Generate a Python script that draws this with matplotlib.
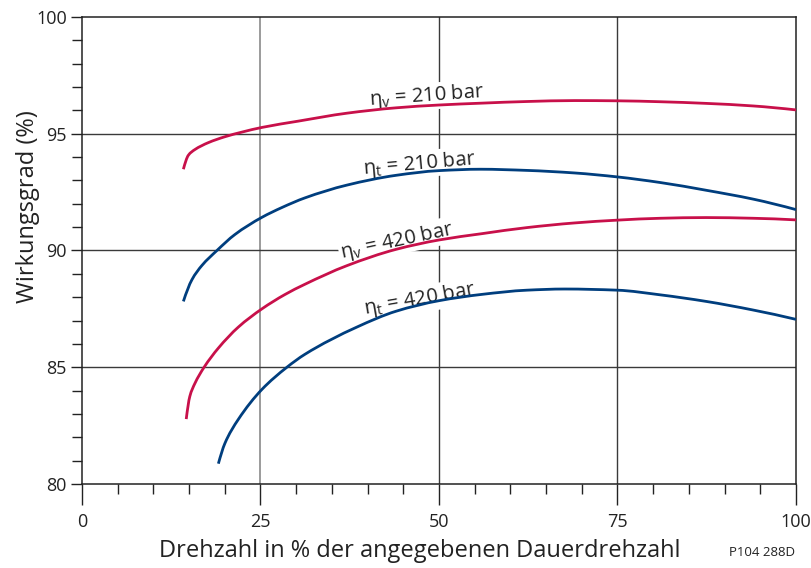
import numpy as np
import matplotlib
matplotlib.use("Agg")
import matplotlib.pyplot as plt
from matplotlib.path import Path
from matplotlib.patches import PathPatch

plt.rcParams['font.family'] = ['Open Sans', 'DejaVu Sans']
plt.rcParams['mathtext.fontset'] = 'custom'
plt.rcParams['mathtext.rm'] = 'Open Sans'

# curves (speed in %, efficiency in %)
x_v210 = [14.2, 14.9, 15.8, 17.7, 20.0, 22.4, 25.2, 30.3, 37.1, 44.0, 50.0,
          56, 62.3, 69, 75, 81, 87.4, 94, 100]
y_v210 = [93.48, 94.08, 94.32, 94.62, 94.87, 95.07, 95.27, 95.54, 95.88, 96.11,
          96.23, 96.31, 96.38, 96.42, 96.41, 96.37, 96.30, 96.19, 96.02]

x_t210 = [14.2, 15.4, 16.8, 18.9, 21.4, 25.2, 28.0, 31.2, 37.1, 44.0, 50.0,
          55.8, 62.3, 69, 75, 81, 87.4, 94, 100]
y_t210 = [87.82, 88.75, 89.36, 90.0, 90.68, 91.42, 91.84, 92.25, 92.80, 93.22,
          93.42, 93.48, 93.43, 93.32, 93.15, 92.91, 92.58, 92.2, 91.75]

x_v420 = [14.6, 15.1, 15.8, 17.1, 19.1, 21.9, 25.2, 28.4, 31.2, 37.1, 44.0,
          50.0, 56, 62.3, 69, 75, 81, 87.4, 94, 100]
y_v420 = [82.78, 83.75, 84.3, 85.0, 85.82, 86.72, 87.50, 88.11, 88.55, 89.35,
          90.05, 90.45, 90.72, 90.98, 91.18, 91.30, 91.38, 91.41, 91.38, 91.31]

x_t420 = [19.1, 20.0, 21.9, 25.2, 28.7, 31.2, 38.5, 44.0, 50.0, 56, 62.3,
          67.6, 75, 81, 87.4, 94, 100]
y_t420 = [80.87, 81.73, 82.77, 84.05, 85.0, 85.55, 86.72, 87.4, 87.85, 88.12,
          88.30, 88.35, 88.30, 88.1, 87.82, 87.45, 87.05]

labels = [r'η$_\mathrm{v}$ = 210 bar', r'η$_\mathrm{t}$ = 210 bar',
          r'η$_\mathrm{v}$ = 420 bar', r'η$_\mathrm{t}$ = 420 bar']
label_x = [48.3, 47.3, 44.1, 47.3]
label_y = [96.6, 93.7, 90.4, 87.9]
label_rot = [4, 5, 12, 10]

red = '#c8104a'
blue = '#003e7e'


def pchip_slopes(xs, ys):
    h = np.diff(xs)
    d = np.diff(ys) / h
    m = np.zeros_like(ys)
    for k in range(1, len(xs) - 1):
        if d[k - 1] * d[k] > 0:
            w1 = 2 * h[k] + h[k - 1]
            w2 = h[k] + 2 * h[k - 1]
            m[k] = (w1 + w2) / (w1 / d[k - 1] + w2 / d[k])
    m[0] = ((2 * h[0] + h[1]) * d[0] - h[0] * d[1]) / (h[0] + h[1])
    if np.sign(m[0]) != np.sign(d[0]):
        m[0] = 0
    m[-1] = ((2 * h[-1] + h[-2]) * d[-1] - h[-1] * d[-2]) / (h[-1] + h[-2])
    if np.sign(m[-1]) != np.sign(d[-1]):
        m[-1] = 0
    return m


def smooth_path(xs, ys):
    # cubic bezier segments through the read points
    xs = np.asarray(xs, float)
    ys = np.asarray(ys, float)
    m = pchip_slopes(xs, ys)
    verts = [(xs[0], ys[0])]
    codes = [Path.MOVETO]
    for i in range(len(xs) - 1):
        h = xs[i + 1] - xs[i]
        verts += [(xs[i] + h / 3, ys[i] + m[i] * h / 3),
                  (xs[i + 1] - h / 3, ys[i + 1] - m[i + 1] * h / 3),
                  (xs[i + 1], ys[i + 1])]
        codes += [Path.CURVE4] * 3
    return Path(verts, codes)


fig = plt.figure(figsize=(8.11, 5.68), dpi=100)
ax = fig.add_axes([0.1011, 0.1479, 0.8804, 0.8222])

ax.set_xlim(0, 100)
ax.set_ylim(80, 100)

# grid
ax.axvline(25, color='#8a8a8a', lw=1.2, zorder=1)
for xv in (50, 75):
    ax.axvline(xv, color='#3a3a3a', lw=1.0, zorder=1)
for yv in (85, 90, 95):
    ax.axhline(yv, color='#3a3a3a', lw=1.0, zorder=1)

for xs, ys, c in [(x_v210, y_v210, red), (x_t210, y_t210, blue),
                  (x_v420, y_v420, red), (x_t420, y_t420, blue)]:
    ax.add_patch(PathPatch(smooth_path(xs, ys), facecolor='none', edgecolor=c,
                           lw=2.0, capstyle='butt', zorder=4))

for txt, lx, ly, rot in zip(labels, label_x, label_y, label_rot):
    ax.text(lx, ly, txt, fontsize=14.5, color='#222222', rotation=rot,
            ha='center', va='center', rotation_mode='anchor', zorder=3,
            bbox=dict(facecolor='white', edgecolor='none', pad=1.0))

ax.set_xticks([0, 25, 50, 75, 100])
ax.set_xticks(np.arange(0, 101, 5), minor=True)
ax.set_yticks([80, 85, 90, 95, 100])
ax.set_yticks(np.arange(80, 101, 1), minor=True)
ax.tick_params(axis='x', which='major', direction='out', length=15, width=1,
               pad=6, labelsize=13, colors='#222222')
ax.tick_params(axis='x', which='minor', direction='out', length=7, width=1,
               colors='#222222')
ax.tick_params(axis='y', which='major', direction='out', length=8, width=1,
               pad=3, labelsize=13, colors='#222222')
ax.tick_params(axis='y', which='minor', direction='out', length=7, width=1,
               colors='#222222')
for s in ax.spines.values():
    s.set_color('#222222')
    s.set_linewidth(1.1)

fig.text(0.518, 0.03, 'Drehzahl in % der angegebenen Dauerdrehzahl',
         fontsize=17, color='#222222', ha='center', va='center')
fig.text(0.035, 0.637, 'Wirkungsgrad (%)', fontsize=17, color='#222222',
         rotation=90, ha='center', va='center')
fig.text(0.94, 0.027, 'P104 288D', fontsize=9.5, color='#222222',
         ha='center', va='center')

fig.savefig('out.png', dpi=100)
